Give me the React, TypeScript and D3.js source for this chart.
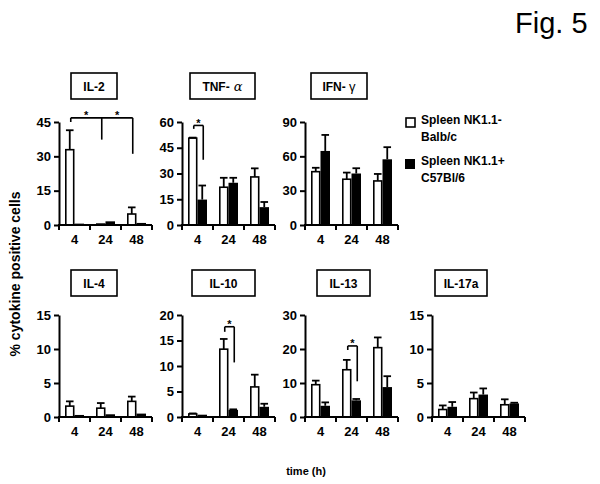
import { useEffect, useRef } from "react";
import * as d3 from "d3";

// time points (h)
const times = ["4", "24", "48"];
const cytokines = ["IL-2", "TNF-α", "IFN-γ", "IL-4", "IL-10", "IL-13", "IL-17a"];
const yMax = [45, 60, 90, 15, 20, 30, 15];
const yStep = [15, 15, 30, 5, 5, 10, 5];

// Spleen NK1.1- Balb/c (white bars)
const balbMean = [
  [32.9, 0.4, 4.8],
  [50.6, 22, 28],
  [46.6, 40, 38.5],
  [1.6, 1.3, 2.3],
  [0.6, 13.3, 5.9],
  [9.5, 13.9, 20.4],
  [1.1, 2.7, 1.8],
];
const balbErr = [
  [8.5, 0, 2.9],
  [0.3, 5.5, 5],
  [3.4, 5.8, 6.1],
  [0.7, 0.75, 0.7],
  [0.1, 2.0, 2.4],
  [1.2, 2.9, 3.0],
  [0.6, 0.9, 0.8],
];
// Spleen NK1.1+ C57Bl/6 (black bars)
const c57Mean = [
  [0.6, 1.6, 0.9],
  [14.8, 24.6, 10.4],
  [64.7, 45, 57.4],
  [0.3, 0.4, 0.5],
  [0.45, 1.4, 2.0],
  [3.3, 4.9, 8.8],
  [1.5, 3.3, 2.0],
];
const c57Err = [
  [0, 0, 0],
  [8.2, 2.9, 3.0],
  [14, 4.6, 10.6],
  [0, 0, 0],
  [0, 0.1, 0.6],
  [1.0, 0.4, 3.2],
  [0.7, 0.9, 0.1],
];
const legendLabels = [
  ["Spleen NK1.1-", "Balb/c"],
  ["Spleen NK1.1+", "C57Bl/6"],
];
// significance brackets: points are [time index, series index]
const brackets = [
  { panel: 0, points: [[0, 0], [1, 0], [2, 0]], top: 46.8, drops: [45, 37.3, 31.1] },
  { panel: 1, points: [[0, 0], [0, 1]], top: 58, drops: [56, 38] },
  { panel: 4, points: [[1, 0], [1, 1]], top: 17.7, drops: [16.7, 10.7] },
  { panel: 5, points: [[1, 0], [1, 1]], top: 20.9, drops: [19.7, 10.5] },
];

// layout
const axisX = [59, 182, 305, 59, 182, 305, 432];
const panelRow = [0, 0, 0, 1, 1, 1, 1];
const rowTop = [122, 315];
const rowBase = [225, 417];
const boxCx = [94, 222.5, 339, 94, 223.5, 343.5, 461];
const boxW = [46, 65, 56, 46, 63, 53, 52];
const boxTop = [73, 270];
const plotW = 93;
const FONT = "'Liberation Sans', Arial, sans-serif";

const App = () => {
  const ref = useRef(null);

  useEffect(() => {
    if (!ref.current) return;
    const svg = d3.select(ref.current);
    svg.selectAll("*").remove();
    svg.attr("viewBox", [0, 0, 600, 484]).attr("font-family", FONT);

    svg.append("rect").attr("width", 600).attr("height", 484).attr("fill", "white");

    cytokines.forEach((name, p) => {
      const row = panelRow[p];
      const x0 = axisX[p];
      const g = svg.append("g");

      const x = d3.scaleBand().domain(times).range([x0, x0 + plotW]);
      const xs = d3.scaleBand().domain(["balb", "c57"]).range([6, 25]);
      const y = d3.scaleLinear().domain([0, yMax[p]]).range([rowBase[row], rowTop[row]]);

      // bars
      const series = [
        { key: "balb", mean: balbMean[p], err: balbErr[p], fill: "white" },
        { key: "c57", mean: c57Mean[p], err: c57Err[p], fill: "black" },
      ];
      series.forEach((s) => {
        times.forEach((t, i) => {
          const bx = (x(t) as number) + (xs(s.key) as number);
          const bw = xs.bandwidth();
          const top = y(s.mean[i]);
          const cx = bx + bw / 2;
          if (s.err[i] > 0) {
            const et = y(s.mean[i] + s.err[i]);
            g.append("line")
              .attr("x1", cx).attr("x2", cx)
              .attr("y1", top).attr("y2", et)
              .attr("stroke", "black").attr("stroke-width", 1.8);
            g.append("line")
              .attr("x1", cx - 3.8).attr("x2", cx + 3.8)
              .attr("y1", et).attr("y2", et)
              .attr("stroke", "black").attr("stroke-width", 1.8);
          }
          g.append("rect")
            .attr("x", s.fill === "white" ? bx + 0.8 : bx)
            .attr("y", top)
            .attr("width", s.fill === "white" ? bw - 1.6 : bw)
            .attr("height", y(0) - top)
            .attr("fill", s.fill)
            .attr("stroke", "black")
            .attr("stroke-width", s.fill === "white" ? 1.6 : 0);
        });
      });

      // y axis
      const ticks = d3.range(0, yMax[p] + 0.001, yStep[p]);
      g.append("g")
        .attr("transform", `translate(${x0},0)`)
        .call(d3.axisLeft(y).tickValues(ticks).tickSize(5).tickSizeOuter(0).tickPadding(3))
        .call((a) => a.selectAll("path,line").attr("stroke-width", 2))
        .call((a) =>
          a.selectAll("text")
            .attr("font-family", FONT)
            .attr("font-size", 13)
            .attr("font-weight", "bold")
            .attr("fill", "black")
        );

      // x axis: line, boundary ticks, labels at centers
      g.append("line")
        .attr("x1", x0 - 1).attr("x2", x0 + plotW)
        .attr("y1", y(0)).attr("y2", y(0))
        .attr("stroke", "black").attr("stroke-width", 2);
      [0, 1, 2, 3].forEach((k) => {
        const tx = x0 + k * x.bandwidth();
        g.append("line")
          .attr("x1", tx).attr("x2", tx)
          .attr("y1", y(0)).attr("y2", y(0) + 5)
          .attr("stroke", "black").attr("stroke-width", 2);
      });
      times.forEach((t) => {
        g.append("text")
          .attr("x", (x(t) as number) + x.bandwidth() / 2)
          .attr("y", y(0) + 19)
          .attr("text-anchor", "middle")
          .attr("font-size", 13)
          .attr("font-weight", "bold")
          .text(t);
      });

      // title box
      const by = boxTop[row];
      g.append("rect")
        .attr("x", boxCx[p] - boxW[p] / 2)
        .attr("y", by)
        .attr("width", boxW[p])
        .attr("height", 26)
        .attr("fill", "white")
        .attr("stroke", "black")
        .attr("stroke-width", 1.6);
      const tt = g.append("text")
        .attr("x", boxCx[p])
        .attr("y", by + 17.5)
        .attr("text-anchor", "middle")
        .attr("font-size", 12)
        .attr("font-weight", "bold");
      if (name === "TNF-α") {
        tt.append("tspan").text("TNF-");
        tt.append("tspan")
          .attr("font-family", "'DejaVu Serif', serif")
          .attr("font-style", "italic")
          .attr("font-weight", "normal")
          .attr("font-size", 13)
          .text(" α");
      } else if (name === "IFN-γ") {
        tt.append("tspan").text("IFN- ");
        tt.append("tspan").attr("font-weight", "normal").attr("font-size", 13).text("γ");
      } else {
        tt.text(name);
      }

      // significance brackets
      brackets
        .filter((b) => b.panel === p)
        .forEach((b) => {
          const px = b.points.map(
            ([ti, si]) =>
              (x(times[ti]) as number) + (xs(si === 0 ? "balb" : "c57") as number) + xs.bandwidth() / 2 + 1
          );
          const ly = y(b.top);
          g.append("line")
            .attr("x1", px[0]).attr("x2", px[px.length - 1])
            .attr("y1", ly).attr("y2", ly)
            .attr("stroke", "black").attr("stroke-width", 1.6);
          px.forEach((xx, k) => {
            g.append("line")
              .attr("x1", xx).attr("x2", xx)
              .attr("y1", ly).attr("y2", y(b.drops[k]))
              .attr("stroke", "black").attr("stroke-width", 1.6);
          });
          for (let k = 0; k < px.length - 1; k++) {
            g.append("text")
              .attr("x", (px[k] + px[k + 1]) / 2)
              .attr("y", ly + 1.5)
              .attr("text-anchor", "middle")
              .attr("font-size", 11)
              .attr("font-weight", "bold")
              .text("*");
          }
        });
    });

    // legend
    const legend = svg.append("g");
    const legendY = [124, 165];
    legendLabels.forEach((lines, i) => {
      legend.append("rect")
        .attr("x", i === 0 ? 406 : 405)
        .attr("y", legendY[i] - (i === 0 ? 6 : 6))
        .attr("width", i === 0 ? 9 : 10)
        .attr("height", i === 0 ? 9 : 10)
        .attr("fill", i === 0 ? "white" : "black")
        .attr("stroke", "black")
        .attr("stroke-width", i === 0 ? 1.6 : 0);
      lines.forEach((l, j) => {
        legend.append("text")
          .attr("x", 421)
          .attr("y", legendY[i] + j * 17)
          .attr("font-size", 12)
          .attr("font-weight", "bold")
          .text(l);
      });
    });

    // axis titles
    svg.append("text")
      .attr("transform", "rotate(-90)")
      .attr("x", -274)
      .attr("y", 20)
      .attr("text-anchor", "middle")
      .attr("font-size", 14)
      .attr("font-weight", "bold")
      .text("% cytokine positive cells");

    svg.append("text")
      .attr("x", 306)
      .attr("y", 475)
      .attr("text-anchor", "middle")
      .attr("font-size", 11)
      .attr("font-weight", "bold")
      .text("time (h)");

    svg.append("text")
      .attr("x", 515)
      .attr("y", 33)
      .attr("font-size", 29)
      .text("Fig. 5");
  }, []);

  return (
    <svg
      ref={ref}
      width={600}
      height={484}
      style={{ position: "absolute", left: 0, top: 0 }}
    ></svg>
  );
};

export default App;
